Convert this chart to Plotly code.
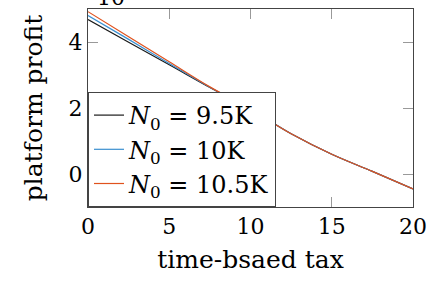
import plotly.graph_objects as go

tax = [0, 2.5, 5, 7.5, 10, 12.5, 15, 17.5, 20]
profit_9_5k = [4.68, 3.99, 3.31, 2.62, 1.96, 1.22, 0.60, 0.08, -0.45]
profit_10k = [4.80, 4.08, 3.35, 2.63, 1.96, 1.22, 0.60, 0.08, -0.45]
profit_10_5k = [4.92, 4.16, 3.40, 2.64, 1.96, 1.22, 0.60, 0.08, -0.45]
labels = ["<i>N</i><sub>0</sub> = 9.5K", "<i>N</i><sub>0</sub> = 10K", "<i>N</i><sub>0</sub> = 10.5K"]
colors = ["#1a1a1a", "#3a8fd0", "#e0521d"]
x_ticks = [0, 5, 10, 15, 20]
y_ticks = [0, 2, 4]

FONT = "DejaVu Serif, Liberation Serif, serif"

fig = go.Figure()
for ys, name, c in zip([profit_9_5k, profit_10k, profit_10_5k], labels, colors):
    fig.add_trace(go.Scatter(x=tax, y=ys, mode="lines", name=name,
                             line=dict(color=c, width=1.2, shape="spline")))

axis_common = dict(showline=True, linecolor="#444", linewidth=1, mirror="ticks",
                   ticks="inside", tickcolor="#999", ticklen=10, tickwidth=1,
                   showgrid=False, zeroline=False, automargin=False,
                   tickfont=dict(family=FONT, size=22, color="black"))

fig.update_xaxes(range=[0, 20], tickvals=x_ticks, **axis_common,
                 title=dict(text="time-bsaed tax", font=dict(family=FONT, size=25, color="black"), standoff=12))
fig.update_yaxes(range=[-1, 5], tickvals=y_ticks, **axis_common,
                 title=dict(text="platform profit", font=dict(family=FONT, size=25, color="black"), standoff=18))

fig.add_annotation(text="·10<sup>4</sup>", xref="paper", yref="paper", x=0.0, y=1.0,
                   xanchor="left", yanchor="bottom", yshift=-3, showarrow=False,
                   font=dict(family=FONT, size=22, color="black"))

fig.update_layout(
    width=445, height=285,
    margin=dict(l=88, r=32, t=9, b=78),
    paper_bgcolor="white", plot_bgcolor="white",
    showlegend=True,
    legend=dict(x=0, y=0, xanchor="left", yanchor="bottom",
                bordercolor="#444", borderwidth=1, bgcolor="white",
                font=dict(family=FONT, size=24, color="black"),
                tracegroupgap=0, itemwidth=30),
)

fig.write_html("out.html", config={"displayModeBar": False},
               post_script="document.body.style.margin='0';")
